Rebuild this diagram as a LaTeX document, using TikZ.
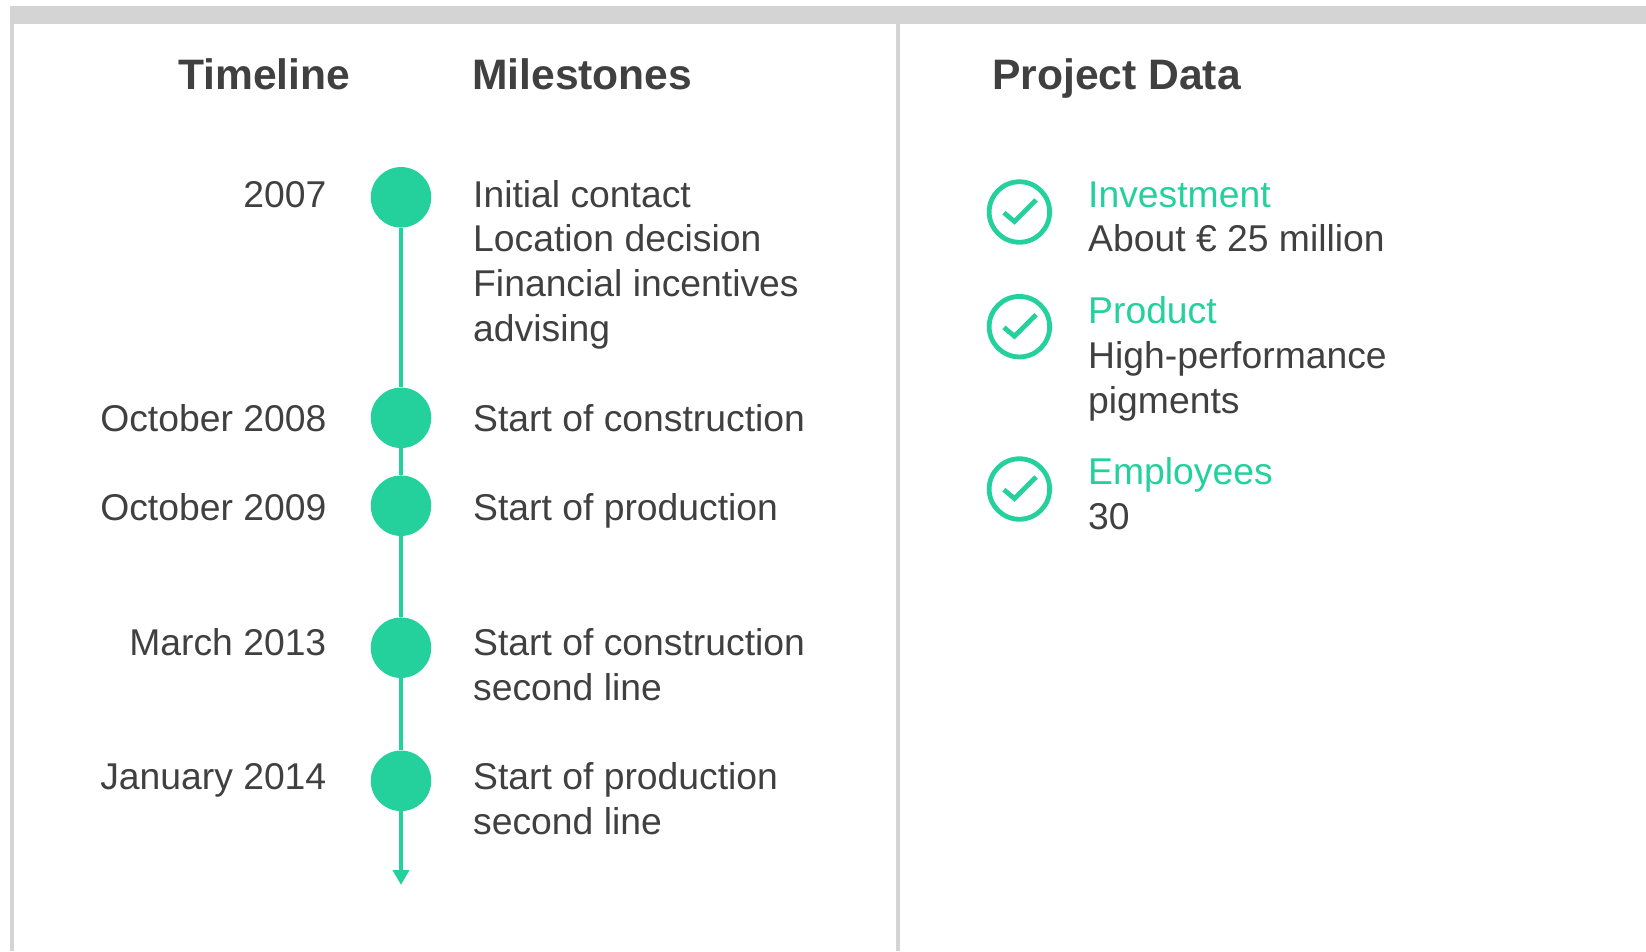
\documentclass[tikz,border=0pt]{standalone}
\usepackage{fontspec}
\setmainfont{Liberation Sans}
\usetikzlibrary{arrows.meta}
\definecolor{txt}{HTML}{404040}
\definecolor{grn}{HTML}{24D19D}
\definecolor{bar}{HTML}{D4D4D4}
\tikzset{
  head/.style={inner sep=0pt,anchor=base west,text=txt,font=\fontsize{42.6bp}{50bp}\selectfont\bfseries},
  date/.style={inner sep=0pt,anchor=base east,text=txt,font=\fontsize{37.3bp}{44.8bp}\selectfont},
  body/.style={inner sep=0pt,anchor=base west,align=left,text=txt,font=\fontsize{37.3bp}{44.7bp}\selectfont},
  lab/.style={body,text=grn},
  dot/.style={circle,fill=grn,inner sep=0pt,minimum size=60.5bp},
  ring/.style={circle,draw=grn,line width=4.8bp,inner sep=0pt,minimum size=60.5bp},
  tick/.style={draw=grn,line width=4.8bp,line join=miter},
  link/.style={draw=grn,line width=4.8bp},
}
\newcommand{\tickin}[1]{\draw[tick] ([shift={(-15.5bp,-0.7bp)}]#1.center) -- ([shift={(-5bp,-9.5bp)}]#1.center) -- ([shift={(16.7bp,12bp)}]#1.center);}
\begin{document}
\begin{tikzpicture}[x=1bp,y=-1bp]
\useasboundingbox (0,0) rectangle (1646,951);
\fill[bar] (10,6) rectangle (1646,23.5);
\fill[bar] (10,6) rectangle (13.5,951);
\fill[bar] (896,23) rectangle (899.5,951);
\node[head] (h1) at (178,89.4) {Timeline};
\node[head] (h2) at (472,89.4) {Milestones};
\node[head] (h3) at (992,89.4) {Project Data};
\node[dot] (n1) at (401,197.3) {};
\node[dot] (n2) at (401,417.8) {};
\node[dot] (n3) at (401,505.7) {};
\node[dot] (n4) at (401,647.7) {};
\node[dot] (n5) at (401,780.8) {};
\coordinate (end) at (401,885);
\draw[link] (n1) -- (n2);
\draw[link] (n2) -- (n3);
\draw[link] (n3) -- (n4);
\draw[link] (n4) -- (n5);
\draw[link,-{Triangle[length=15bp,width=16bp]}] (n5) -- (end);
\node[date] (d1) at (326.5,207) {2007};
\node[date] (d2) at (326.5,431) {October 2008};
\node[date] (d3) at (326.5,520) {October 2009};
\node[date] (d4) at (326.5,655) {March 2013};
\node[date] (d5) at (326.5,789) {January 2014};
\node[body] (m1) at (473,341.3) {Initial contact\\Location decision\\Financial incentives\\advising};
\node[body] (m2) at (473,431) {Start of construction};
\node[body] (m3) at (473,520) {Start of production};
\node[body] (m4) at (473,700) {Start of construction\\second line};
\node[body] (m5) at (473,834) {Start of production\\second line};
\node[ring] (c1) at (1019.4,212) {};
\node[ring] (c2) at (1019.4,326.7) {};
\node[ring] (c3) at (1019.4,489) {};
\tickin{c1}
\tickin{c2}
\tickin{c3}
\node[lab] (l1) at (1088,207) {Investment};
\node[body] (v1) at (1088,251) {About € 25 million};
\node[lab] (l2) at (1088,323) {Product};
\node[body] (v2) at (1088,413) {High-performance\\pigments};
\node[lab] (l3) at (1088,484) {Employees};
\node[body] (v3) at (1088,529) {30};
\end{tikzpicture}
\end{document}
